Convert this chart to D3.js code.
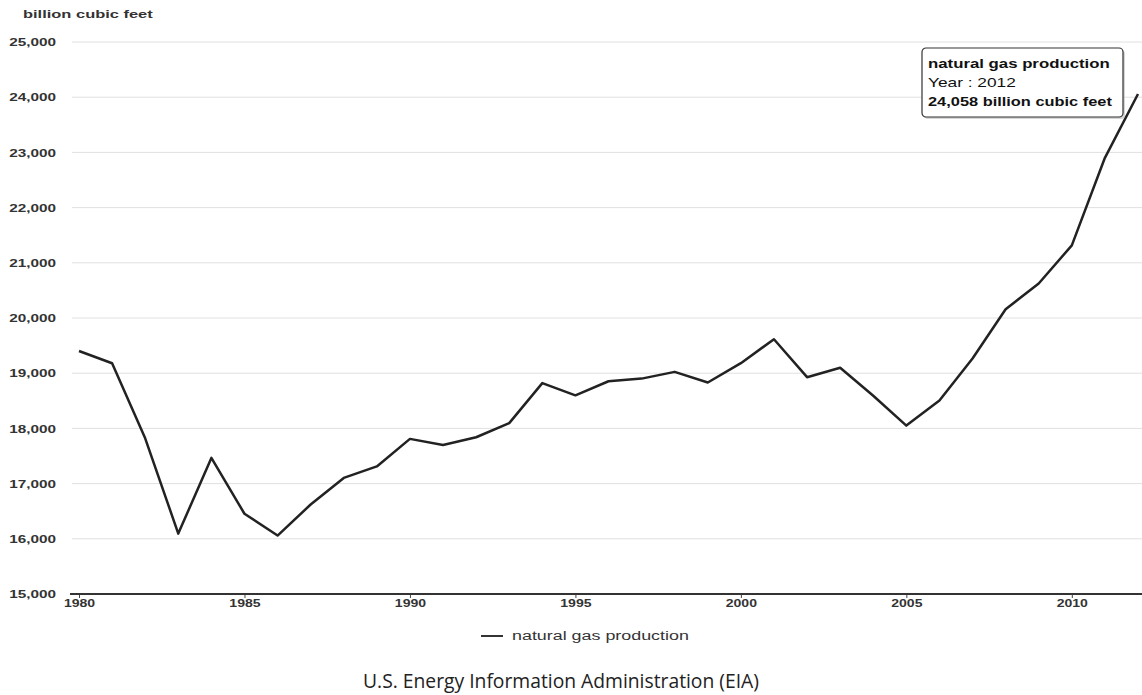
<!DOCTYPE html>
<html><head><meta charset="utf-8">
<script src="https://cdn.jsdelivr.net/npm/d3@7"></script>
<style>body{margin:0;background:#fff}svg{display:block}</style>
</head><body>
<svg id="chart" width="1142" height="695"></svg>
<script>
const years = [1980,1981,1982,1983,1984,1985,1986,1987,1988,1989,1990,1991,1992,1993,1994,1995,1996,1997,1998,1999,2000,2001,2002,2003,2004,2005,2006,2007,2008,2009,2010,2011,2012];
const production = [19403,19181,17820,16094,17466,16454,16059,16621,17103,17311,17810,17698,17840,18095,18821,18599,18854,18902,19024,18832,19182,19616,18928,19099,18591,18051,18504,19266,20159,20624,21316,22902,24058];
const yTicks = [15000,16000,17000,18000,19000,20000,21000,22000,23000,24000,25000];
const xTicks = [1980,1985,1990,1995,2000,2005,2010];
const seriesName = "natural gas production";
const unitLabel = "billion cubic feet";
const source = "U.S. Energy Information Administration (EIA)";

const svg = d3.select("#chart");
const font = "Liberation Sans, Arial, sans-serif";
const x = d3.scaleLinear().domain([1980,2012]).range([79,1138]);
const y = d3.scaleLinear().domain([15000,25000]).range([594,42]);
const left = 72, right = 1142;

// widen text horizontally (the reference rendering is stretched)
function stretch(sel, k){
  sel.each(function(){
    const w = this.getComputedTextLength();
    d3.select(this).attr("textLength", w*k).attr("lengthAdjust","spacingAndGlyphs");
  });
}

// gridlines
svg.append("g").selectAll("line").data(yTicks.filter(d=>d>15000)).join("line")
  .attr("x1",left).attr("x2",right).attr("y1",d=>y(d)).attr("y2",d=>y(d))
  .attr("stroke","#e0e0e0").attr("stroke-width",1);

// y axis labels
const yAxis = d3.axisLeft(y).tickValues(yTicks).tickFormat(d3.format(",")).tickSize(0).tickPadding(0);
const gy = svg.append("g").attr("transform","translate(56,0)").call(yAxis);
gy.select(".domain").remove();
gy.selectAll("text").attr("font-family",font).attr("font-size",11.5).attr("font-weight","bold").attr("fill","#333");
stretch(gy.selectAll("text"),1.33);

// x axis
const xAxis = d3.axisBottom(x).tickValues(xTicks).tickFormat(d3.format("d")).tickSize(4).tickPadding(1);
const gx = svg.append("g").attr("transform",`translate(0,${y(15000)})`).call(xAxis);
gx.select(".domain").remove();
gx.selectAll("line").attr("stroke","#444");
gx.selectAll("text").attr("font-family",font).attr("font-size",11.5).attr("font-weight","bold").attr("fill","#333");
stretch(gx.selectAll("text"),1.22);
svg.append("line").attr("x1",left-2).attr("x2",right).attr("y1",y(15000)).attr("y2",y(15000))
  .attr("stroke","#333").attr("stroke-width",2);

// unit label
const ul = svg.append("text").attr("x",23).attr("y",18).text(unitLabel)
  .attr("font-family",font).attr("font-size",11.5).attr("font-weight","bold").attr("fill","#333");
stretch(ul,1.43);

// line
const line = d3.line().x((d,i)=>x(years[i])).y(d=>y(d));
svg.append("path").datum(production).attr("d",line)
  .attr("fill","none").attr("stroke","#222").attr("stroke-width",2.5).attr("stroke-linejoin","round");

// legend
svg.append("line").attr("x1",481).attr("x2",503).attr("y1",636).attr("y2",636).attr("stroke","#333").attr("stroke-width",2);
const lg = svg.append("text").attr("x",512).attr("y",640).text(seriesName)
  .attr("font-family",font).attr("font-size",12.5).attr("fill","#333");
stretch(lg,1.43);

// source
svg.append("text").attr("x",561).attr("y",688).attr("text-anchor","middle").text(source)
  .attr("font-family","Open Sans, DejaVu Sans, sans-serif").attr("font-size",19.3).attr("fill","#222");

// tooltip
const lastI = years.length-1;
const tip = svg.append("g").attr("transform","translate(922,48)");
tip.append("rect").attr("x",2).attr("y",2).attr("width",201).attr("height",69).attr("rx",4).attr("fill","#bbb").attr("opacity",0.6);
tip.append("rect").attr("width",201).attr("height",69).attr("rx",4).attr("fill","#fff").attr("stroke","#333").attr("stroke-width",1.2);
const t1 = tip.append("text").attr("x",6).attr("y",20).text(seriesName).attr("font-family",font).attr("font-size",13).attr("font-weight","bold").attr("fill","#111");
const t2 = tip.append("text").attr("x",6).attr("y",39).text("Year : "+years[lastI]).attr("font-family",font).attr("font-size",13).attr("fill","#111");
const t3 = tip.append("text").attr("x",6).attr("y",58).text(d3.format(",")(production[lastI])+" billion cubic feet").attr("font-family",font).attr("font-size",13).attr("font-weight","bold").attr("fill","#111");
stretch(t1,1.29); stretch(t2,1.33); stretch(t3,1.26);
</script>
</body></html>
